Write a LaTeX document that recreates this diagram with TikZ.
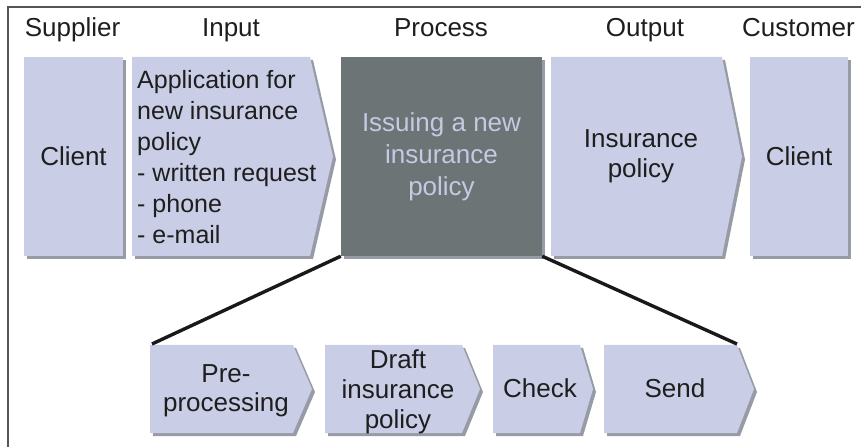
\documentclass[tikz,border=0pt]{standalone}
\usepackage{fontspec}
\setmainfont{Liberation Sans}
\usetikzlibrary{shadows}
\definecolor{boxfill}{RGB}{201,206,230}
\definecolor{shadowc}{RGB}{150,155,165}
\definecolor{procfill}{RGB}{109,116,118}
\definecolor{proctext}{RGB}{197,201,225}
\definecolor{txt}{RGB}{30,30,30}
\definecolor{framec}{RGB}{85,85,85}
\newcommand\pentshape[5]{%
  \begin{scope}[shift={(3,3)}]
    \fill[shd] (#1,#2) -- (#3,#2) -- (#4,{(#2+#5)/2}) -- (#3,#5) -- (#1,#5) -- cycle;
  \end{scope}
  \fill[shp] (#1,#2) -- (#3,#2) -- (#4,{(#2+#5)/2}) -- (#3,#5) -- (#1,#5) -- cycle;}
\begin{document}
\begin{tikzpicture}[x=1bp,y=-1bp,
  fr/.style={draw=framec, line width=1.4bp},
  shp/.style={fill=boxfill},
  shd/.style={fill=shadowc},
  lbl/.style={font=\fontsize{26bp}{31bp}\selectfont, text=txt, inner sep=0pt, align=center},
  hdr/.style={lbl, anchor=base},
  rectbox/.style={fill=boxfill, inner sep=0pt, minimum height=199bp, align=center,
     font=\fontsize{26bp}{31bp}\selectfont, text=txt,
     drop shadow={shadow xshift=3bp, shadow yshift=-3bp, fill=shadowc, opacity=1}},
  procbox/.style={rectbox, fill=procfill, text=proctext, font=\fontsize{26bp}{32bp}\selectfont},
  link/.style={draw=black!90, line width=3.4bp}
]
\useasboundingbox (0,0) rectangle (861,447);
\draw[fr] (8,447) -- (8,7) -- (861,7);

% headers
\node[hdr] (hsup) at (72.5,37) {Supplier};
\node[hdr] (hin) at (231,37) {Input};
\node[hdr] (hproc) at (441,37) {Process};
\node[hdr] (hout) at (645,37) {Output};
\node[hdr] (hcus) at (798.5,37) {Customer};

% top row
\node[rectbox, minimum width=99bp] (sup) at (73.5,156.5) {Client};
\pentshape{132}{57}{310}{333}{256}
\node[lbl, align=left, anchor=north west, font=\fontsize{25bp}{31bp}\selectfont] (inp) at (137,70.5)
  {Application for\\new insurance\\policy\\- written request\\- phone\\- e-mail};
\node[procbox, minimum width=201bp] (proc) at (441.5,156.5) {Issuing a new\\insurance\\policy};
\pentshape{551}{57}{722}{742}{256}
\node[lbl, anchor=north, font=\fontsize{26bp}{30bp}\selectfont] (out) at (641,129) {Insurance\\policy};
\node[rectbox, minimum width=98bp] (cus) at (799,156.5) {Client};

% bottom row
\pentshape{150}{345}{293}{312}{433}
\node[lbl, anchor=north, font=\fontsize{26bp}{29bp}\selectfont] (pre) at (226,364.5) {Pre-\\processing};
\pentshape{325}{345}{462}{480}{433}
\node[lbl, anchor=north, font=\fontsize{26bp}{30bp}\selectfont] (draft) at (398,349) {Draft\\insurance\\policy};
\pentshape{493}{345}{580}{593}{433}
\node[lbl, anchor=base] (check) at (540,397) {Check};
\pentshape{604}{345}{737}{754}{433}
\node[lbl, anchor=base] (send) at (675,397) {Send};

\coordinate (prenw) at (152,344);
\coordinate (sendne) at (737,344);
\draw[link] (proc.south west) -- (prenw);
\draw[link] (proc.south east) -- (sendne);
\end{tikzpicture}
\end{document}
